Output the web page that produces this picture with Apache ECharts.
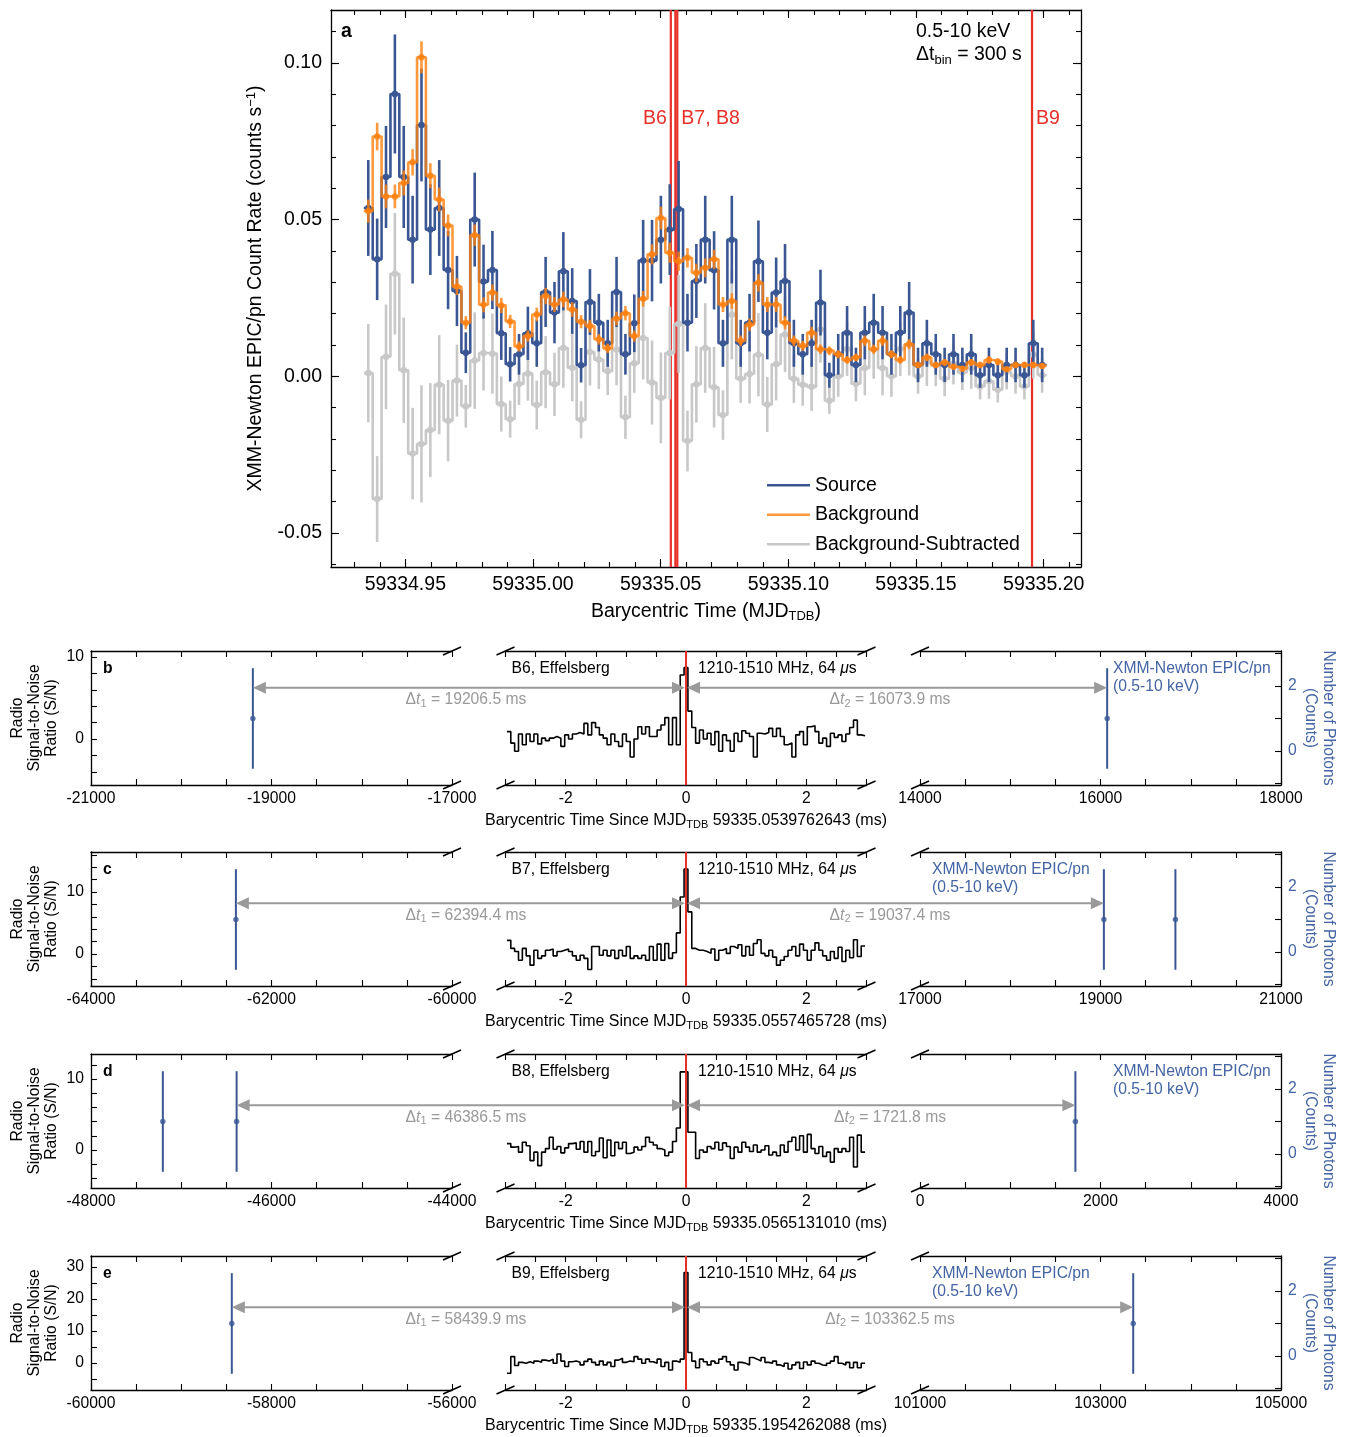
<!DOCTYPE html>
<html><head><meta charset="utf-8">
<script src="https://cdn.jsdelivr.net/npm/echarts@6/dist/echarts.min.js"></script>
<style>html,body{margin:0;padding:0;background:#fff}#chart{width:1355px;height:1437px}</style>
</head><body><div id="chart"></div>
<script>
// ================= Panel a: XMM-Newton light curve =================
const binCenterStartMJD = 59334.9355;
const binWidthSec = 300;
const sourceRate = [
0.0537,0.0373,0.0636,0.0901,0.0636,0.0436,0.0802,0.0468,0.0537,0.0339,
0.0272,0.0075,0.0500,0.0302,0.0339,0.0137,0.0038,0.0070,0.0137,0.0105,
0.0269,0.0203,0.0335,0.0240,0.0035,0.0237,0.0171,0.0105,0.0269,0.0070,
0.0169,0.0369,0.0369,0.0436,0.0468,0.0534,0.0171,0.0304,0.0436,0.0338,
0.0105,0.0436,0.0105,0.0171,0.0367,0.0139,0.0267,0.0304,0.0105,0.0070,
0.0105,0.0235,0.0003,0.0070,0.0139,0.0036,0.0139,0.0171,0.0139,0.0070,
0.0139,0.0203,0.0036,0.0105,0.0070,0.0036,0.0070,0.0036,0.0070,0.0003,
0.0036,0.0003,0.0036,0.0036,0.0003,0.0105,0.0036];
const sourceErr = [
0.0153,0.0130,0.0163,0.0190,0.0163,0.0140,0.0180,0.0145,0.0153,0.0125,
0.0112,0.0065,0.0150,0.0118,0.0125,0.0085,0.0055,0.0065,0.0085,0.0075,
0.0112,0.0098,0.0125,0.0105,0.0055,0.0105,0.0092,0.0075,0.0112,0.0065,
0.0092,0.0130,0.0130,0.0140,0.0145,0.0153,0.0092,0.0118,0.0140,0.0125,
0.0075,0.0140,0.0075,0.0092,0.0130,0.0085,0.0112,0.0118,0.0075,0.0065,
0.0075,0.0105,0.0040,0.0065,0.0085,0.0055,0.0085,0.0092,0.0085,0.0065,
0.0085,0.0098,0.0055,0.0075,0.0065,0.0055,0.0065,0.0055,0.0065,0.0040,
0.0055,0.0040,0.0055,0.0055,0.0040,0.0075,0.0055];
const backgroundRate = [
0.0527,0.0765,0.0574,0.0574,0.0617,0.0683,0.1018,0.0640,0.0564,0.0481,
0.0286,0.0171,0.0450,0.0228,0.0267,0.0226,0.0175,0.0095,0.0128,0.0197,
0.0256,0.0229,0.0245,0.0213,0.0174,0.0160,0.0118,0.0089,0.0184,0.0201,
0.0128,0.0247,0.0389,0.0505,0.0394,0.0367,0.0378,0.0330,0.0346,0.0373,
0.0229,0.0240,0.0113,0.0164,0.0298,0.0229,0.0229,0.0171,0.0113,0.0097,
0.0139,0.0086,0.0081,0.0070,0.0052,0.0060,0.0113,0.0086,0.0113,0.0070,
0.0052,0.0102,0.0036,0.0060,0.0036,0.0044,0.0030,0.0024,0.0044,0.0036,
0.0052,0.0046,0.0022,0.0036,0.0036,0.0036,0.0033];
const backgroundErr = [
0.0037,0.0044,0.0038,0.0038,0.0040,0.0042,0.0051,0.0040,0.0038,0.0035,
0.0027,0.0021,0.0034,0.0024,0.0026,0.0024,0.0021,0.0016,0.0018,0.0022,
0.0026,0.0024,0.0025,0.0023,0.0021,0.0020,0.0017,0.0015,0.0022,0.0023,
0.0018,0.0025,0.0032,0.0036,0.0032,0.0031,0.0031,0.0029,0.0030,0.0031,
0.0024,0.0025,0.0017,0.0020,0.0028,0.0024,0.0024,0.0021,0.0017,0.0016,
0.0019,0.0015,0.0014,0.0013,0.0012,0.0012,0.0017,0.0015,0.0017,0.0013,
0.0012,0.0016,0.0010,0.0012,0.0010,0.0011,0.0009,0.0008,0.0011,0.0010,
0.0012,0.0011,0.0008,0.0010,0.0010,0.0010,0.0009];
const subtractedRate = [
0.0010,-0.0392,0.0062,0.0327,0.0019,-0.0247,-0.0216,-0.0172,-0.0027,-0.0142,
-0.0014,-0.0096,0.0050,0.0074,0.0072,-0.0089,-0.0137,-0.0025,0.0009,-0.0092,
0.0013,-0.0026,0.0090,0.0027,-0.0139,0.0077,0.0053,0.0016,0.0085,-0.0131,
0.0041,0.0122,-0.0020,-0.0069,0.0074,0.0167,-0.0207,-0.0026,0.0090,-0.0035,
-0.0124,0.0196,-0.0008,0.0007,0.0069,-0.0090,0.0038,0.0133,-0.0008,-0.0027,
-0.0034,0.0149,-0.0078,0.0000,0.0087,-0.0024,0.0026,0.0085,0.0026,0.0000,
0.0087,0.0101,0.0000,0.0045,0.0034,-0.0008,0.0040,0.0012,0.0026,-0.0033,
-0.0016,-0.0043,0.0014,0.0000,-0.0033,0.0069,0.0003];
const subtractedErr = [
0.0157,0.0137,0.0167,0.0194,0.0168,0.0146,0.0187,0.0150,0.0158,0.0130,
0.0115,0.0068,0.0154,0.0120,0.0128,0.0088,0.0059,0.0067,0.0087,0.0078,
0.0115,0.0101,0.0127,0.0107,0.0059,0.0107,0.0094,0.0076,0.0114,0.0069,
0.0094,0.0132,0.0134,0.0145,0.0148,0.0156,0.0097,0.0122,0.0143,0.0129,
0.0079,0.0142,0.0077,0.0094,0.0133,0.0088,0.0115,0.0120,0.0077,0.0067,
0.0077,0.0106,0.0042,0.0066,0.0086,0.0056,0.0087,0.0093,0.0087,0.0066,
0.0086,0.0099,0.0056,0.0076,0.0066,0.0056,0.0066,0.0056,0.0066,0.0041,
0.0056,0.0041,0.0056,0.0056,0.0041,0.0076,0.0056];
const burstNames = ['B6','B7','B8','B9'];
const burstMJD = [59335.0539762643, 59335.0557465728, 59335.0565131010, 59335.1954262088];
const burstLabels = ['B6','','B7, B8','B9'];
const burstLabelAlign = ['right','left','left','left'];
const topXTicks = [59334.95, 59335.00, 59335.05, 59335.10, 59335.15, 59335.20];
const topYTicks = [-0.05, 0.00, 0.05, 0.10];
const topXRange = [59334.9209, 59335.2146];
const topYRange = [-0.0609, 0.1169];

// ================= Panels b-e: radio bursts =================
const panelLetters = ['b','c','d','e'];
const panelBurst = ['B6','B7','B8','B9'];
const refMJDText = ['59335.0539762643','59335.0557465728','59335.0565131010','59335.1954262088'];
const radioBinMs = 0.064;
const snB = [0.9,-0.5,-1.5,0.6,-0.7,0.6,-0.3,0.6,-0.6,0.1,-0.2,0.1,0.3,0.1,-0.9,0.5,0.0,0.6,0.8,0.6,
  1.9,0.5,2.0,1.4,0.5,0.1,-0.7,0.6,-0.3,-0.9,0.6,-0.3,-2.2,0.0,1.5,0.6,1.5,0.3,0.3,1.1,1.7,2.6,-0.7,2.6,-0.7,
  7.8,8.7,
  3.4,1.4,-0.5,1.1,0.0,0.7,-0.7,0.9,-1.5,0.5,-0.2,-1.5,0.7,-0.3,1.0,0.7,0.3,-2.2,0.7,0.6,
  0.8,1.3,0.3,1.3,0.3,-0.7,-0.5,-2.2,0.5,0.9,-0.7,1.5,1.6,0.9,-0.5,0.1,-0.9,0.7,0.2,0.5,-0.3,0.6,1.4,2.3,0.5,0.4];
const snC = [2.2,0.9,0.4,-1.0,0.9,-0.3,-1.8,0.6,-0.7,-0.3,0.6,0.8,-0.3,0.4,0.6,0.8,0.4,-0.3,-1.0,-0.2,
  -0.7,-2.5,1.2,1.2,-0.2,0.6,-0.3,0.6,-0.7,0.6,-0.3,1.2,-0.7,-0.3,-0.7,-0.2,-1.0,1.2,-1.0,1.6,-1.0,1.7,-0.7,0.2,3.4,
  9.2,13.7,
  6.8,0.9,0.6,0.6,0.4,0.1,0.8,-1.0,0.6,0.9,0.1,1.2,0.9,1.5,-0.3,1.2,-0.2,1.7,2.3,0.1,
  -0.3,0.6,-0.5,-1.8,-1.0,-0.4,0.6,1.2,-0.3,1.6,0.6,-1.0,0.6,1.8,0.6,-0.3,-1.0,0.4,-0.7,1.1,-1.2,0.6,-0.6,2.3,-0.4,1.3];
const snD = [0.9,0.4,0.5,-0.3,1.1,0.6,-1.5,-0.3,-2.2,-0.3,0.2,1.8,0.1,0.5,-0.4,0.3,0.9,1.0,0.1,1.2,
  -0.3,1.2,-0.8,-0.2,1.7,-1.1,1.4,-0.8,1.1,0.2,1.1,-0.5,-0.3,0.4,0.0,0.5,1.8,1.1,0.7,0.2,0.0,-0.8,-0.3,1.2,3.1,
  11.0,11.0,
  2.5,2.5,-1.2,0.0,-0.3,0.5,0.2,1.1,0.0,1.0,0.5,-1.2,0.4,-0.3,1.1,0.4,-0.2,0.7,-0.3,0.0,
  0.6,-0.7,-0.3,-0.8,0.7,-0.3,1.2,1.8,0.0,2.0,-0.3,2.2,0.2,-0.5,0.5,-0.9,-0.3,-1.7,0.2,-0.3,0.2,-0.2,1.8,-2.4,2.1,-0.3];
const snE = [-3.2,2.0,-0.8,0.2,-0.1,0.4,-0.1,0.6,0.2,0.9,0.6,1.2,-0.1,2.8,0.6,-1.1,0.4,0.6,0.2,-0.6,
  0.5,1.2,0.2,-0.6,0.6,-0.6,0.2,-1.1,0.9,1.5,0.2,0.6,0.4,2.0,1.2,-0.1,1.2,0.4,-0.1,1.2,-1.1,0.2,-2.2,0.6,0.2,
  1.2,28.3,
  3.3,0.6,-1.5,1.2,0.4,-0.6,0.6,-0.1,1.2,2.0,0.4,-0.6,-2.2,0.2,-0.1,-0.6,1.7,1.2,0.6,1.7,
  0.2,-0.1,0.6,-0.6,-1.1,-0.1,-1.9,-0.6,0.2,-1.7,0.3,-0.6,0.6,-0.1,-0.6,-0.8,-0.1,0.6,2.0,-0.1,-0.6,0.2,-1.5,0.2,-1.5,-0.1];
const snSeries = [snB, snC, snD, snE];
const snPeakIndex = [46, 46, 46, 46];   // bin centred on t = 0
const xrayLeftTimes = [[-19206.5],[-62394.4],[-47204.0,-46386.5],[-58439.9]];
const xrayLeftCounts = [[1],[1],[1,1],[1]];
const xrayRightTimes = [[16073.9],[19037.4,19830.0],[1721.8],[103362.5]];
const xrayRightCounts = [[1],[1,1],[1],[1]];
const xrayCountErr = 1.55;
const dt1 = [19206.5, 62394.4, 46386.5, 58439.9];
const dt2 = [16073.9, 19037.4, 1721.8, 103362.5];
const arrowLevel = [1.95, 1.5, 1.5, 1.5];
const leftRange = [[-21000,-17000],[-64000,-60000],[-48000,-44000],[-60000,-56000]];
const rightRange = [[14000,18000],[17000,21000],[0,4000],[101000,105000]];
const leftTickLabels = [[-21000,-19000,-17000],[-64000,-62000,-60000],[-48000,-46000,-44000],[-60000,-58000,-56000]];
const rightTickLabels = [[14000,16000,18000],[17000,19000,21000],[0,2000,4000],[101000,103000,105000]];
const midRange = [-3, 3];
const midTickLabels = [-2, 0, 2];
const snRange = [[-5.61,10.73],[-5.16,16.45],[-5.35,13.52],[-8.44,33.44]];
const snTickLabels = [[0,10],[0,10],[0,10],[0,10,20,30]];
const snMinorStep = [2,2,2,5];
const photonRange = [-1.05, 3.08];
const photonTicks = [-1,0,1,2,3];
const photonTickLabels = [0,2];
const xmmLabelSide = ['right','left','right','left'];

// ================= styling / layout =================
const FONT = "'Liberation Sans', Arial, Helvetica, sans-serif";
const SRC_BLUE = '#3a5794';
const BKG_ORANGE = '#ff7f0e';
const SUB_GREY = '#c8c8c8';
const BURST_RED = '#e8302a';
const XMM_BLUE = '#4464a4';
const ARROW_GREY = '#9a9a9a';
const panelTop = [651, 852, 1054, 1256];
const panelH = 134;
const segLeft = [91, 505.5, 920];
const segW = 361;

function steps(a, b, st) { const o = []; for (let v = a; v <= b + 1e-9; v += st) o.push(+v.toFixed(6)); return o; }
function aline(show) { return {show, onZero: false, lineStyle: {color: '#000', width: 1.3}}; }
function aticks(values, len) { return {show: true, inside: true, length: len, customValues: values, lineStyle: {color: '#000', width: 1.1}}; }
function alabels(values, fmt, size, margin, color) { return {show: true, customValues: values, formatter: fmt, fontSize: size, fontFamily: FONT, color: color || '#000', margin}; }
function richStyle(size, color) {
  return {fontSize: size, fontFamily: FONT, color, lineHeight: size + 3,
    rich: {sub: {fontSize: Math.round(size * 0.68), lineHeight: 8, verticalAlign: 'bottom', fontFamily: FONT, color},
           sup: {fontSize: Math.round(size * 0.68), lineHeight: 8, verticalAlign: 'top', fontFamily: FONT, color},
           it: {fontSize: size, fontStyle: 'italic', fontFamily: FONT, color}}};
}
function ax(o) {
  return Object.assign({type: 'value', splitLine: {show: false}, axisLine: {show: false, onZero: false},
    axisTick: {show: false}, axisLabel: {show: false}, nameMoveOverlap: false}, o);
}
function errSeries(xi, yi, data, color, width, opacity, z) {
  return {type: 'custom', xAxisIndex: xi, yAxisIndex: yi, data, z, silent: true, clip: false,
    encode: {x: 0, y: 1},
    renderItem: (params, api) => {
      const x = api.value(0), y = api.value(1), lo = api.value(2), hi = api.value(3);
      const a = api.coord([x, y - lo]), b = api.coord([x, y + hi]);
      return {type: 'line', shape: {x1: a[0], y1: a[1], x2: b[0], y2: b[1]},
        style: {stroke: color, lineWidth: width, opacity}};
    }};
}
// histogram-style step: each value held across its whole bin [centre - w/2, centre + w/2]
function binEdgeData(centers, values, width) {
  const d = values.map((v, i) => [centers[i] - width / 2, v]);
  d.push([centers[centers.length - 1] + width / 2, values[values.length - 1]]);
  return d;
}

const grids = [], xAxes = [], yAxes = [], series = [];

// ---------- panel a ----------
grids.push({left: 331, top: 10, width: 750, height: 557, outerBoundsMode: 'none', containLabel: false});
const topXMinor = steps(59334.92, 59335.21, 0.01);
const topYMinor = steps(-0.06, 0.11, 0.01);
xAxes.push(ax({gridIndex: 0, min: topXRange[0], max: topXRange[1], position: 'bottom', axisLine: aline(true),
  axisTick: aticks(topXTicks, 8), axisLabel: alabels(topXTicks, v => v.toFixed(2), 19.5, 8),
  name: 'Barycentric Time (MJD{sub|TDB})', nameLocation: 'middle', nameGap: 33, nameTextStyle: richStyle(19.5, '#000')}));
xAxes.push(ax({gridIndex: 0, min: topXRange[0], max: topXRange[1], position: 'bottom', axisTick: aticks(topXMinor, 5)}));
xAxes.push(ax({gridIndex: 0, min: topXRange[0], max: topXRange[1], position: 'top', axisLine: aline(true), axisTick: aticks(topXTicks, 8)}));
xAxes.push(ax({gridIndex: 0, min: topXRange[0], max: topXRange[1], position: 'top', axisTick: aticks(topXMinor, 5)}));
yAxes.push(ax({gridIndex: 0, min: topYRange[0], max: topYRange[1], position: 'left', axisLine: aline(true),
  axisTick: aticks(topYTicks, 8), axisLabel: alabels(topYTicks, v => v.toFixed(2), 19.5, 9),
  name: 'XMM-Newton EPIC/pn Count Rate (counts s{sup|−1})', nameLocation: 'middle', nameRotate: 90, nameGap: 64,
  nameTextStyle: richStyle(19.5, '#000')}));
yAxes.push(ax({gridIndex: 0, min: topYRange[0], max: topYRange[1], position: 'left', axisTick: aticks(topYMinor, 5)}));
yAxes.push(ax({gridIndex: 0, min: topYRange[0], max: topYRange[1], position: 'right', axisLine: aline(true), axisTick: aticks(topYTicks, 8)}));
yAxes.push(ax({gridIndex: 0, min: topYRange[0], max: topYRange[1], position: 'right', axisTick: aticks(topYMinor, 5)}));

const binWidthDays = binWidthSec / 86400;
const binCenters = sourceRate.map((_, i) => binCenterStartMJD + i * binWidthDays);
function stepLine(name, rates, color, opacity, z) {
  return [
    {type: 'line', name, xAxisIndex: 0, yAxisIndex: 0, step: 'end', silent: true,
      data: binEdgeData(binCenters, rates, binWidthDays), showSymbol: false, symbol: 'none',
      lineStyle: {color, width: 2.6, opacity}, itemStyle: {color, opacity}, z, emphasis: {disabled: true}},
    {type: 'scatter', xAxisIndex: 0, yAxisIndex: 0, silent: true, z: z + 0.5,
      data: rates.map((v, i) => [binCenters[i], v]), symbolSize: 6.5,
      itemStyle: {color, opacity}, emphasis: {disabled: true}}
  ];
}
series.push({type: 'custom', xAxisIndex: 0, yAxisIndex: 0, silent: true, z: 1, clip: false,
  data: burstMJD.map((t, i) => [t, i]), encode: {x: 0, y: 1},
  renderItem: (params, api) => {
    const cs = params.coordSys;
    const x = api.coord([api.value(0), 0])[0];
    const i = params.dataIndex;
    const ch = [{type: 'line', shape: {x1: x, y1: cs.y, x2: x, y2: cs.y + cs.height}, style: {stroke: BURST_RED, lineWidth: 2.2}}];
    if (burstLabels[i]) ch.push({type: 'text', x: x + (burstLabelAlign[i] === 'right' ? -4 : 4), y: cs.y + 109,
      style: {text: burstLabels[i], fill: BURST_RED, fontSize: 19.5, fontFamily: FONT, align: burstLabelAlign[i], verticalAlign: 'middle'}});
    return {type: 'group', children: ch};
  }});
series.push(errSeries(0, 0, subtractedRate.map((v, i) => [binCenters[i], v, subtractedErr[i], subtractedErr[i]]), SUB_GREY, 2.6, 1, 2));
series.push(...stepLine('Background-Subtracted', subtractedRate, SUB_GREY, 1, 3));
series.push(errSeries(0, 0, sourceRate.map((v, i) => [binCenters[i], v, sourceErr[i], sourceErr[i]]), SRC_BLUE, 2.6, 1, 4));
series.push(...stepLine('Source', sourceRate, SRC_BLUE, 1, 5));
series.push(errSeries(0, 0, backgroundRate.map((v, i) => [binCenters[i], v, backgroundErr[i], backgroundErr[i]]), BKG_ORANGE, 2.6, 0.8, 6));
series.push(...stepLine('Background', backgroundRate, BKG_ORANGE, 0.8, 7));

// ---------- panels b-e ----------
const lowerIdx = [];
for (let p = 0; p < 4; p++) {
  const T = panelTop[p];
  const gi = grids.length;
  segLeft.forEach(l => grids.push({left: l, top: T, width: segW, height: panelH, outerBoundsMode: 'none', containLabel: false}));
  const lt = steps(leftRange[p][0], leftRange[p][1], 500);
  const rt = steps(rightRange[p][0], rightRange[p][1], 500);
  const mt = steps(midRange[0], midRange[1], 0.5);
  const idx = {};
  idx.xL = xAxes.length;
  xAxes.push(ax({gridIndex: gi, min: leftRange[p][0], max: leftRange[p][1], position: 'bottom', axisLine: aline(true),
    axisTick: aticks(lt, 6), axisLabel: alabels(leftTickLabels[p], v => String(v), 15.7, 6)}));
  xAxes.push(ax({gridIndex: gi, min: leftRange[p][0], max: leftRange[p][1], position: 'top', axisLine: aline(true), axisTick: aticks(lt, 6)}));
  idx.xM = xAxes.length;
  xAxes.push(ax({gridIndex: gi + 1, min: midRange[0], max: midRange[1], position: 'bottom', axisLine: aline(true),
    axisTick: aticks(mt, 6), axisLabel: alabels(midTickLabels, v => String(v), 15.7, 6),
    name: 'Barycentric Time Since MJD{sub|TDB} ' + refMJDText[p] + ' (ms)', nameLocation: 'middle', nameGap: 26,
    nameTextStyle: richStyle(16, '#000')}));
  xAxes.push(ax({gridIndex: gi + 1, min: midRange[0], max: midRange[1], position: 'top', axisLine: aline(true), axisTick: aticks(mt, 6)}));
  idx.xR = xAxes.length;
  xAxes.push(ax({gridIndex: gi + 2, min: rightRange[p][0], max: rightRange[p][1], position: 'bottom', axisLine: aline(true),
    axisTick: aticks(rt, 6), axisLabel: alabels(rightTickLabels[p], v => String(v), 15.7, 6)}));
  xAxes.push(ax({gridIndex: gi + 2, min: rightRange[p][0], max: rightRange[p][1], position: 'top', axisLine: aline(true), axisTick: aticks(rt, 6)}));

  const snT = steps(Math.ceil(snRange[p][0] / snMinorStep[p]) * snMinorStep[p], snRange[p][1], snMinorStep[p]);
  idx.ySN = yAxes.length;
  yAxes.push(ax({gridIndex: gi, min: snRange[p][0], max: snRange[p][1], position: 'left', axisLine: aline(true),
    axisTick: aticks(snT, 6), axisLabel: alabels(snTickLabels[p], v => String(v), 15.7, 7),
    name: 'Radio\nSignal-to-Noise\nRatio (S/N)', nameLocation: 'middle', nameRotate: 90, nameGap: 31,
    nameTextStyle: {fontSize: 15.7, fontFamily: FONT, color: '#000', lineHeight: 17}}));
  idx.yPL = yAxes.length;
  yAxes.push(ax({gridIndex: gi, min: photonRange[0], max: photonRange[1], show: false}));
  idx.yM = yAxes.length;
  yAxes.push(ax({gridIndex: gi + 1, min: snRange[p][0], max: snRange[p][1], show: false}));
  idx.yPR = yAxes.length;
  yAxes.push(ax({gridIndex: gi + 2, min: photonRange[0], max: photonRange[1], position: 'right', axisLine: aline(true),
    axisTick: aticks(photonTicks, 6), axisLabel: alabels(photonTickLabels, v => String(v), 15.7, 7, XMM_BLUE),
    name: 'Number of Photons\n(Counts)', nameLocation: 'middle', nameRotate: -90, nameGap: 20,
    nameTextStyle: {fontSize: 15.7, fontFamily: FONT, color: XMM_BLUE, lineHeight: 18}}));
  lowerIdx.push(idx);

  const sn = snSeries[p];
  const radioCenters = sn.map((_, i) => (i - snPeakIndex[p]) * radioBinMs);
  series.push({type: 'line', xAxisIndex: idx.xM, yAxisIndex: idx.yM, step: 'end', silent: true, z: 3,
    data: binEdgeData(radioCenters, sn, radioBinMs), showSymbol: false, symbol: 'none',
    lineStyle: {color: '#000', width: 1.6}, emphasis: {disabled: true},
    markLine: {silent: true, symbol: ['none', 'none'], label: {show: false}, animation: false,
      lineStyle: {color: BURST_RED, width: 2, type: 'solid', opacity: 1}, emphasis: {disabled: true}, data: [{xAxis: 0}]}});
  [[idx.xL, idx.yPL, xrayLeftTimes[p], xrayLeftCounts[p]], [idx.xR, idx.yPR, xrayRightTimes[p], xrayRightCounts[p]]].forEach(([xi, yi, ts, cs]) => {
    series.push(errSeries(xi, yi, ts.map((t, j) => [t, cs[j], xrayCountErr, xrayCountErr]), SRC_BLUE, 2, 1, 4));
    series.push({type: 'scatter', xAxisIndex: xi, yAxisIndex: yi, silent: true, z: 5, symbolSize: 5.5,
      data: ts.map((t, j) => [t, cs[j]]), itemStyle: {color: SRC_BLUE}, emphasis: {disabled: true}});
  });
}

const chart = echarts.init(document.getElementById('chart'), null, {renderer: 'canvas'});
chart.setOption({
  animation: false,
  backgroundColor: '#fff',
  textStyle: {fontFamily: FONT},
  grid: grids, xAxis: xAxes, yAxis: yAxes, series,
  legend: {data: ['Source', 'Background', 'Background-Subtracted'], orient: 'vertical', left: 762, top: 470,
    itemWidth: 43, itemHeight: 2.5, itemGap: 9, icon: 'rect', selectedMode: false,
    textStyle: {fontSize: 19.5, fontFamily: FONT, color: '#000', lineHeight: 20.5}}
});

// ---------- annotations (positions via the chart's own scales) ----------
const G = [];
function txt(x, y, text, opt) {
  opt = opt || {};
  const size = opt.size || 15.7, color = opt.color || '#000';
  const rs = richStyle(size, color);
  G.push({type: 'text', x, y, z: 60, silent: true, style: {text, fill: color, fontSize: size, fontFamily: FONT,
    fontWeight: opt.bold ? 'bold' : 'normal', align: opt.align || 'left', verticalAlign: 'middle',
    lineHeight: opt.lineHeight || size + 3, rich: Object.fromEntries(Object.entries(rs.rich).map(([k, v]) => [k, Object.assign({}, v, {fill: color})]))}});
}
function seg(x1, y1, x2, y2, color, w) {
  G.push({type: 'line', z: 60, silent: true, shape: {x1, y1, x2, y2}, style: {stroke: color, lineWidth: w}});
}
function head(tipX, y, dir) { // dir -1: points left, +1: points right
  const L = 13, h = 6;
  G.push({type: 'polygon', z: 61, silent: true, shape: {points: [[tipX, y], [tipX - dir * L, y - h], [tipX - dir * L, y + h]]}, style: {fill: ARROW_GREY}});
}
function arrow(xa, xb, y) {
  seg(xa + 10, y, xb - 10, y, ARROW_GREY, 2);
  head(xa, y, -1); head(xb, y, 1);
}

txt(341, 32, 'a', {size: 19.5, bold: true});
txt(916, 32, '0.5-10 keV', {size: 19.5});
txt(916, 55, 'Δt{sub|bin} = 300 s', {size: 19.5, lineHeight: 23});

for (let p = 0; p < 4; p++) {
  const T = panelTop[p], B = T + panelH;
  const idx = lowerIdx[p];
  const yA = chart.convertToPixel({yAxisIndex: idx.yPL}, arrowLevel[p]);
  const xL = chart.convertToPixel({xAxisIndex: idx.xL}, -dt1[p]);
  const x0 = chart.convertToPixel({xAxisIndex: idx.xM}, 0);
  const xR = chart.convertToPixel({xAxisIndex: idx.xR}, dt2[p]);
  arrow(xL, x0 - 1, yA);
  arrow(x0 + 1, xR, yA);
  txt(466, yA + 12, 'Δ{it|t}{sub|1} = ' + dt1[p].toFixed(1) + ' ms', {color: ARROW_GREY, align: 'center'});
  txt(890, yA + 12, 'Δ{it|t}{sub|2} = ' + dt2[p].toFixed(1) + ' ms', {color: ARROW_GREY, align: 'center'});
  txt(segLeft[0] + 12, T + 18, panelLetters[p], {bold: true});
  txt(segLeft[1] + 6, T + 18, panelBurst[p] + ', Effelsberg');
  txt(x0 + 12, T + 18, '1210-1510 MHz, 64 {it|μ}s');
  const xmmX = xmmLabelSide[p] === 'right' ? segLeft[2] + 193 : segLeft[2] + 12;
  txt(xmmX, T + 27, 'XMM-Newton EPIC/pn\n(0.5-10 keV)', {color: XMM_BLUE, lineHeight: 18});
  // axis-break marks
  [segLeft[0] + segW, segLeft[1], segLeft[1] + segW, segLeft[2]].forEach(bx => {
    [T, B].forEach(by => seg(bx - 9, by + 4, bx + 9, by - 4, '#000', 1.5));
  });
}
chart.setOption({graphic: {elements: G}});
</script></body></html>
